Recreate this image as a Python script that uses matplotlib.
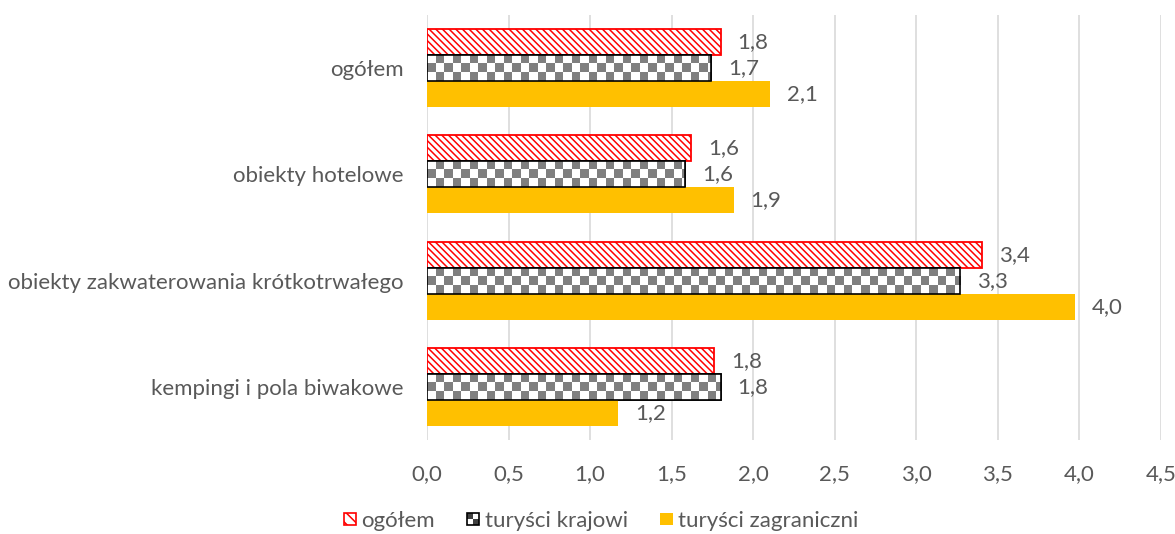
import numpy as np
import matplotlib
matplotlib.use("Agg")
import matplotlib.pyplot as plt
from matplotlib.patches import Rectangle
from matplotlib.legend_handler import HandlerBase

categories = ["ogółem", "obiekty hotelowe", "obiekty zakwaterowania krótkotrwałego", "kempingi i pola biwakowe"]
series_names = ["ogółem", "turyści krajowi", "turyści zagraniczni"]
ogolem = [1.80, 1.62, 3.40, 1.76]
krajowi = [1.74, 1.58, 3.27, 1.80]
zagraniczni = [2.10, 1.88, 3.97, 1.17]
xticks = [0, 0.5, 1.0, 1.5, 2.0, 2.5, 3.0, 3.5, 4.0, 4.5]

FONT = "Lato"
FS = 16
TXT = "#595959"
RED = "#FF0000"
YELLOW = "#FFC000"
plt.rcParams["font.family"] = [FONT, "DejaVu Sans"]
plt.rcParams["hatch.linewidth"] = 1.1

fig = plt.figure(figsize=(11.75, 5.34), dpi=100)
ax = fig.add_axes([427/1175, 1-440/534, (1161-427)/1175, (440-15)/534])
ax.set_xlim(0, 4.5)
ax.set_ylim(-0.5, 3.5)

n = len(categories)
ypos = np.arange(n)[::-1]
h = 0.245

b1 = ax.barh(ypos + h, ogolem, height=h, facecolor="white", edgecolor=RED, hatch="\\\\\\\\\\", linewidth=1.3, zorder=3)
b2 = ax.barh(ypos, krajowi, height=h, facecolor="white", edgecolor="black", linewidth=1.2, zorder=3)
b3 = ax.barh(ypos - h, zagraniczni, height=h, facecolor=YELLOW, edgecolor="none", zorder=3)

# checkerboard texture for krajowi bars
fig.canvas.draw()
pxu = ax.transData.transform((1, 0))[0] - ax.transData.transform((0, 0))[0]
pyu = abs(ax.transData.transform((0, 1))[1] - ax.transData.transform((0, 0))[1])
sq = 8.5
for p in b2:
    x0, y0, w, hh = p.get_x(), p.get_y(), p.get_width(), p.get_height()
    rows = max(1, int(round(hh * pyu / sq)))
    sq_x = sq / pxu
    cols = int(np.ceil(w / sq_x)) + 1
    checker = (np.add.outer(np.arange(rows), np.arange(cols)) % 2).astype(float)
    rgb = np.where(checker[..., None] == 1, np.array([0.5, 0.5, 0.5]), np.array([1.0, 1.0, 1.0]))
    im = ax.imshow(rgb, extent=(x0, x0 + cols * sq_x, y0, y0 + hh), aspect="auto",
                   interpolation="nearest", zorder=3.5, origin="upper")
    im.set_clip_path(p)
    edge = Rectangle((x0, y0), w, hh, facecolor="none", edgecolor="black", linewidth=1.2, zorder=4)
    ax.add_patch(edge)
ax.set_xlim(0, 4.5)
ax.set_ylim(-0.5, 3.5)

# value labels
for bars, vals in ((b1, ogolem), (b2, krajowi), (b3, zagraniczni)):
    for p, v in zip(bars, vals):
        ax.text(v + 17/pxu, p.get_y() + p.get_height()/2, f"{v:.1f}".replace(".", ","),
                va="center", ha="left", fontsize=FS, color=TXT, zorder=5)

ax.set_xticks(xticks)
ax.set_xticklabels([f"{t:.1f}".replace(".", ",") for t in xticks], fontsize=FS, color=TXT)
ax.set_yticks(ypos)
ax.set_yticklabels(categories, fontsize=FS, color=TXT)
ax.tick_params(axis="both", length=0)
ax.tick_params(axis="y", pad=17)
ax.tick_params(axis="x", pad=17)
for s in ax.spines.values():
    s.set_visible(False)
ax.grid(axis="x", color="#D9D9D9", linewidth=1.2, zorder=0)
ax.set_axisbelow(True)


class CheckerHandler(HandlerBase):
    def create_artists(self, legend, orig_handle, xdescent, ydescent, width, height, fontsize, trans):
        s = min(width, height)
        x0 = -xdescent + (width - s) / 2
        y0 = -ydescent + (height - s) / 2
        arts = [Rectangle((x0, y0), s, s, facecolor="white", edgecolor="none", transform=trans)]
        half = s / 2
        arts.append(Rectangle((x0, y0 + half), half, half, facecolor="#404040", edgecolor="none", transform=trans))
        arts.append(Rectangle((x0 + half, y0), half, half, facecolor="#404040", edgecolor="none", transform=trans))
        arts.append(Rectangle((x0, y0), s, s, facecolor="none", edgecolor="black", linewidth=1.2, transform=trans))
        return arts


class SquareHandler(HandlerBase):
    def __init__(self, fc, ec, hatch=None, **kw):
        super().__init__(**kw)
        self.fc, self.ec, self.hatch = fc, ec, hatch

    def create_artists(self, legend, orig_handle, xdescent, ydescent, width, height, fontsize, trans):
        s = min(width, height)
        x0 = -xdescent + (width - s) / 2
        y0 = -ydescent + (height - s) / 2
        r = Rectangle((x0, y0), s, s, facecolor=self.fc, edgecolor=self.ec, hatch=self.hatch,
                      linewidth=1.2, transform=trans)
        return [r]


h1 = Rectangle((0, 0), 1, 1)
h2 = Rectangle((0, 0), 1, 1)
h3 = Rectangle((0, 0), 1, 1)
leg = fig.legend([h1, h2, h3], series_names, loc="center", bbox_to_anchor=(601/1175, 1-521/534),
                 ncol=3, frameon=False, fontsize=FS, labelcolor=TXT,
                 handlelength=0.55, handleheight=0.55, handletextpad=0.25, columnspacing=1.45,
                 handler_map={h1: SquareHandler("white", RED, "\\\\\\"),
                              h2: CheckerHandler(),
                              h3: SquareHandler(YELLOW, "none")})

fig.savefig("out.png", dpi=100)
